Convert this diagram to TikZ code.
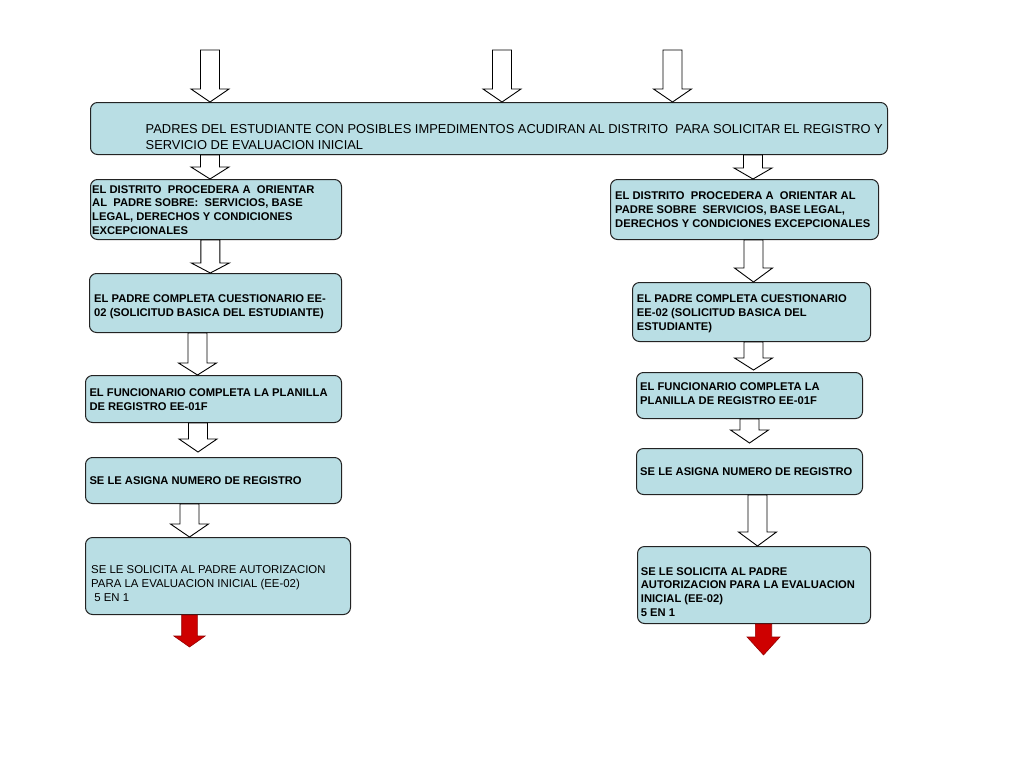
\documentclass[tikz,border=0pt]{standalone}
\usepackage{fontspec}
\setmainfont{Liberation Sans}
\usetikzlibrary{calc}
\definecolor{boxfill}{RGB}{185,222,228}
\definecolor{boxline}{RGB}{35,35,35}
\definecolor{redfill}{RGB}{206,0,0}
\definecolor{reddark}{RGB}{150,0,0}
\tikzstyle{every node}+=[inner sep=0pt]
% block arrow: style, from, to, half shaft, head length
\newcommand{\blockarrow}[5]{%
\draw[#1] let \p1=(#2), \p2=(#3) in
  (\x1-#4pt,\y1) -- (\x1+#4pt,\y1) -- (\x1+#4pt,\y2+#5pt) -- (\x1+2*#4pt,\y2+#5pt)
  -- (\x1,\y2) -- (\x1-2*#4pt,\y2+#5pt) -- (\x1-#4pt,\y2+#5pt) -- cycle;}

\begin{document}
\begin{tikzpicture}[x=1pt,y=-1pt]
\tikzstyle{box}=[draw=boxline, fill=boxfill, line width=1pt, rounded corners=7pt, anchor=north west]
\tikzstyle{plain}=[anchor=north west, align=left, font=\fontsize{11.4}{14.2}\selectfont]
\tikzstyle{heavy}=[plain, font=\fontsize{11.2}{13.9}\selectfont\bfseries]
\tikzstyle{hollow}=[draw=black, fill=white, line width=0.9pt]
\tikzstyle{redtip}=[draw=reddark, fill=redfill, line width=0.6pt]
\fill[white] (0,0) rectangle (1024,768);

% top box
\node[box, minimum width=797, minimum height=52] (padres) at (90,102) {};
\node[plain, font=\fontsize{12.9}{15.4}\selectfont] (padres-t) at (145.5,124.4)
  {PADRES DEL ESTUDIANTE CON POSIBLES IMPEDIMENTOS ACUDIRAN AL DISTRITO\ \ PARA SOLICITAR EL REGISTRO Y\\SERVICIO DE EVALUACION INICIAL};

% left column
\node[box, minimum width=251, minimum height=60] (orientarL) at (90,179) {};
\node[heavy] (orientarL-t) at (92,185)
  {EL DISTRITO\ \ PROCEDERA A\ \ ORIENTAR\\AL\ \ PADRE SOBRE:\ \ SERVICIOS, BASE\\LEGAL, DERECHOS Y CONDICIONES\\EXCEPCIONALES};
\node[box, minimum width=252, minimum height=59] (cuestL) at (89,273) {};
\node[heavy] (cuestL-t) at (94,294.3)
  {EL PADRE COMPLETA CUESTIONARIO EE-\\02 (SOLICITUD BASICA DEL ESTUDIANTE)};
\node[box, minimum width=256, minimum height=47] (planillaL) at (85,375) {};
\node[heavy] (planillaL-t) at (89.3,388.7)
  {EL FUNCIONARIO COMPLETA LA PLANILLA\\DE REGISTRO EE-01F};
\node[box, minimum width=256, minimum height=46] (numeroL) at (85,457) {};
\node[heavy] (numeroL-t) at (89.3,476) {SE LE ASIGNA NUMERO DE REGISTRO};
\node[box, minimum width=265, minimum height=77] (autorizL) at (85,537) {};
\node[plain] (autorizL-t) at (91,565.2)
  {SE LE SOLICITA AL PADRE AUTORIZACION\\PARA LA EVALUACION INICIAL (EE-02)\\\ 5 EN 1};

% right column
\node[box, minimum width=268, minimum height=60] (orientarR) at (610,179) {};
\node[heavy] (orientarR-t) at (615,191.7)
  {EL DISTRITO\ \ PROCEDERA A\ \ ORIENTAR AL\\PADRE SOBRE\ \ SERVICIOS, BASE LEGAL,\\DERECHOS Y CONDICIONES EXCEPCIONALES};
\node[box, minimum width=238, minimum height=59] (cuestR) at (632,282) {};
\node[heavy] (cuestR-t) at (636.7,294.3)
  {EL PADRE COMPLETA CUESTIONARIO\\EE-02 (SOLICITUD BASICA DEL\\ESTUDIANTE)};
\node[box, minimum width=226, minimum height=46] (planillaR) at (636,372) {};
\node[heavy] (planillaR-t) at (640,382.7)
  {EL FUNCIONARIO COMPLETA LA\\PLANILLA DE REGISTRO EE-01F};
\node[box, minimum width=226, minimum height=46] (numeroR) at (636,448) {};
\node[heavy] (numeroR-t) at (640,467.7) {SE LE ASIGNA NUMERO DE REGISTRO};
\node[box, minimum width=233, minimum height=77] (autorizR) at (637,546) {};
\node[heavy] (autorizR-t) at (640.7,567)
  {SE LE SOLICITA AL PADRE\\AUTORIZACION PARA LA EVALUACION\\INICIAL (EE-02)\\5 EN 1};

% incoming arrows
\coordinate (in1) at (210,50);
\coordinate (in2) at (502,50);
\coordinate (in3) at (672.5,50);
\blockarrow{hollow}{in1}{in1 |- padres.north}{9.5}{13}
\blockarrow{hollow}{in2}{in2 |- padres.north}{9.5}{13}
\blockarrow{hollow}{in3}{in3 |- padres.north}{9.5}{13}

% left arrows
\blockarrow{hollow}{210,0 |- padres.south}{210,0 |- orientarL.north}{9.5}{12}
\blockarrow{hollow}{210.3,0 |- orientarL.south}{210.3,0 |- cuestL.north}{9.5}{10}
\blockarrow{hollow}{197.5,0 |- cuestL.south}{197.5,0 |- planillaL.north}{9.5}{12}
\blockarrow{hollow}{198,0 |- planillaL.south}{$(198,0 |- numeroL.north)+(0,-5)$}{9.5}{13}
\blockarrow{hollow}{189.5,0 |- numeroL.south}{189.5,0 |- autorizL.north}{9.5}{13}
\blockarrow{redtip}{189.5,0 |- autorizL.south}{189.5,647}{7.8}{11}

% right arrows
\blockarrow{hollow}{753,0 |- padres.south}{753,0 |- orientarR.north}{9.5}{11}
\blockarrow{hollow}{753.5,0 |- orientarR.south}{753.5,0 |- cuestR.north}{9.5}{14}
\blockarrow{hollow}{753.5,0 |- cuestR.south}{$(753.5,0 |- planillaR.north)+(0,-2)$}{9.5}{12}
\blockarrow{hollow}{749.5,0 |- planillaR.south}{$(749.5,0 |- numeroR.north)+(0,-5)$}{9.5}{13}
\blockarrow{hollow}{757.5,0 |- numeroR.south}{757.5,0 |- autorizR.north}{9.5}{14}
\blockarrow{redtip}{763.5,0 |- autorizR.south}{763.5,655}{8.2}{18}
\end{tikzpicture}
\end{document}
